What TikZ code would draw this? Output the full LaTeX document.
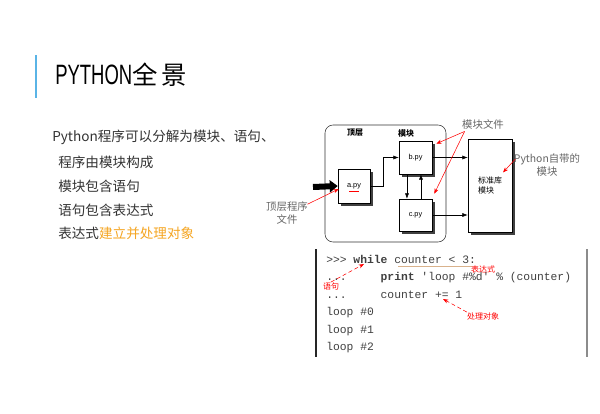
\documentclass[tikz,border=0pt]{standalone}
\usepackage{fontspec}
\setmainfont{Liberation Sans}
\setmonofont{Liberation Mono}
\newfontfamily\cjk{Noto Sans CJK SC}
\newfontfamily\titlefont[FakeStretch=0.66]{Liberation Sans}
\usetikzlibrary{calc,arrows.meta,shadows}
\definecolor{barblue}{RGB}{90,180,230}
\definecolor{objorange}{RGB}{245,166,35}

\begin{document}
\begin{tikzpicture}[x=0.75pt,y=-0.75pt,
  modbox/.style={draw,fill=white,inner sep=0pt,font=\fontsize{5.5}{6.5}\selectfont,
    drop shadow={shadow xshift=2pt,shadow yshift=-2pt,fill=black!75,opacity=1}},
  note/.style={text=black!60,align=center,inner sep=1pt,font=\cjk\fontsize{7.8}{9.5}\selectfont},
  item/.style={anchor=west,inner sep=0pt,text=black!80,font=\cjk\fontsize{10.2}{12}\selectfont},
  code/.style={anchor=west,inner sep=0pt,text=black!75,font=\ttfamily\fontsize{8.5}{10}\selectfont},
  tag/.style={inner sep=0pt,text=red,font=\cjk\fontsize{6}{7}\selectfont},
  redarrow/.style={red,thin,-{Stealth[length=4pt,width=3pt]}}]
  \fill[white] (0,0) rectangle (600,414);
  \useasboundingbox (0,0) rectangle (600,414);
  \draw[barblue,line width=1.2pt](36,55)--(36,98);
  \node[anchor=base west,inner sep=0pt](title) at (55,84)
    {\titlefont\fontsize{21}{24}\selectfont PYTHON\cjk\fontsize{19}{24}\selectfont 全\,景};
  \node[item](l1) at (52,137){Python程序可以分解为模块、语句、};
  \node[item](l2) at (58,162){程序由模块构成};
  \node[item](l3) at (58,186){模块包含语句};
  \node[item](l4) at (58,210){语句包含表达式};
  \node[item](l5) at (58,233){表达式\textcolor{objorange}{建立并处理对象}};
  \draw[rounded corners=6pt,black!80](325,125)rectangle(446,242);
  \node[inner sep=0pt,font=\cjk\bfseries\fontsize{6}{7}\selectfont](toplvl) at (355,133){顶层};
  \node[inner sep=0pt,font=\cjk\bfseries\fontsize{6}{7}\selectfont](modlvl) at (406,133){模块};
  \node[modbox,minimum width=24pt,minimum height=25.5pt](a) at (354,186){a.py};
  \node[modbox,minimum width=24.75pt,minimum height=24.75pt](b) at (415.5,157.5){b.py};
  \node[modbox,minimum width=24.75pt,minimum height=24pt](c) at (415.5,215){c.py};
  \node[modbox,minimum width=33pt,minimum height=70pt,align=left,
    font=\cjk\fontsize{6}{8}\selectfont](std) at (490,185.5){标准库\\模块};
  \coordinate(in) at (313,187);
  \draw[line width=4.5pt,-{Triangle[length=6pt,width=9pt]}](in)--(a.west);
  \draw[red]($(a.center)+(-5,5)$)--++(10,0);
  \draw[-{Latex[length=4pt,width=3pt]}](a.east)--++(13,0)|-(b.west);
  \draw[-{Latex[length=4pt,width=3pt]}]([xshift=-6.4pt]b.south)--([xshift=-6.4pt]c.north);
  \draw[-{Latex[length=4pt,width=3pt]}]([xshift=4.1pt]c.north)--([xshift=4.1pt]b.south);
  \draw[-{Latex[length=4pt,width=3pt]}](b.east)--(b.east-|std.west);
  \draw[-{Latex[length=4pt,width=3pt]}](c.east)--(c.east-|std.west);
  \node[note](modfile) at (483,125){模块文件};
  \draw[redarrow]([xshift=3pt]modfile.south west)--($(b.north east)+(4,3)$);
  \draw[redarrow]([xshift=3pt]modfile.south west)--($(c.north east)+(2,-5)$);
  \node[note](pyown) at (547,165){Python自带的\\模块};
  \draw[redarrow]($(pyown.west)+(3,-6)$)--($(std.center)+(13,-13)$);
  \node[note](topfile) at (287,213){顶层程序\\文件};
  \draw[redarrow]($(topfile.north east)+(-2,4)$)--($(a.west)+(1,3)$);
  \draw[black!85,line width=1.3pt](316,249)--(316,357);
  \draw[black!45,line width=0.8pt](587,249)--(587,357);
  \node[code](c1) at (326,259){{>}{>}{>} \textbf{while} counter < 3:};
  \node[code](c2) at (326,278){...\ \ \ \ \ \textbf{print} 'loop \#\%d' \% (counter)};
  \node[code](c3) at (326,295){...\ \ \ \ \ counter += 1};
  \node[code](c4) at (326,313){loop \#0};
  \node[code](c5) at (326,331){loop \#1};
  \node[code](c6) at (326,348){loop \#2};
  \draw[brown!60,thin](398,266)--(472,266);
  \node[tag](stmt) at (331,286){语句};
  \draw[redarrow,densely dashed](stmt.north)--($(c1.west)+(38,5)$);
  \node[tag](expr) at (483,269){表达式};
  \node[tag](obj) at (483,316){处理对象};
  \draw[redarrow,densely dashed](obj.north west)--($(c3.west)+(117,4)$);
\end{tikzpicture}
\end{document}
